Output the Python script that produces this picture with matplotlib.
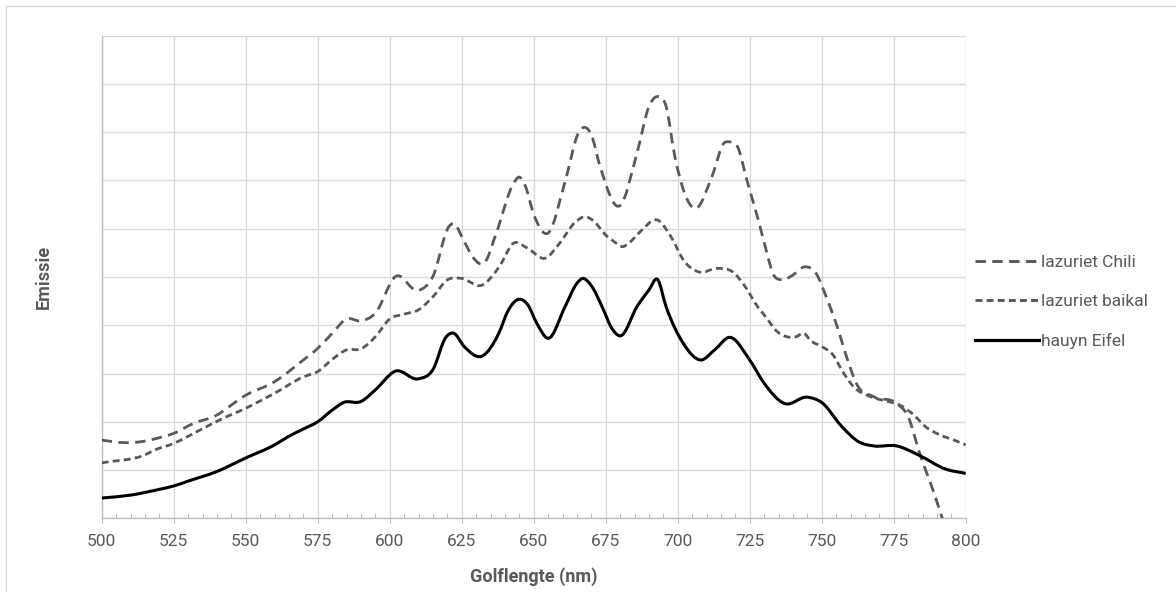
import numpy as np
import matplotlib
matplotlib.use("Agg")
import matplotlib.pyplot as plt
from matplotlib.path import Path
from matplotlib.patches import PathPatch, Rectangle
from matplotlib.lines import Line2D

plt.rcParams['font.family'] = ['Roboto', 'DejaVu Sans']
plt.rcParams['lines.scale_dashes'] = False

# ---------------- data ----------------
series_names = ["lazuriet Chili", "lazuriet baikal", "hauyn Eifel"]

chili_wl = [500, 507, 514, 520, 525, 532, 539, 550, 560, 570, 575, 580, 585, 590, 595,
            602, 610, 615, 620.5, 622, 626, 629, 633, 637, 643, 645, 647, 650, 655, 661,
            665.5, 667.5, 670, 673, 680, 686, 690, 693, 696, 699, 706, 712, 716, 718, 721,
            724, 728, 731, 733, 736, 740, 744, 748, 752, 755, 759, 762, 768, 776, 780,
            784, 789, 795, 800]
chili_em = [1.62, 1.57, 1.59, 1.67, 1.76, 1.97, 2.11, 2.55, 2.83, 3.28, 3.52, 3.83, 4.13, 4.09, 4.25,
            5.01, 4.72, 5.01, 6.04, 6.11, 5.72, 5.40, 5.30, 5.91, 6.94, 7.07, 6.90, 6.30, 5.91, 7.00,
            7.98, 8.10, 7.95, 7.30, 6.48, 7.60, 8.53, 8.74, 8.53, 7.50, 6.42, 7.10, 7.77, 7.80, 7.67,
            7.01, 6.18, 5.49, 5.08, 4.94, 5.04, 5.21, 5.08, 4.52, 4.04, 3.28, 2.80, 2.52, 2.38, 2.11,
            1.35, 0.52, -0.60, -1.60]

baikal_wl = [500, 505, 508, 514, 519, 525, 531, 541, 550, 560, 570, 575, 580, 585, 590,
             595, 600, 605, 610, 615, 620, 625, 632, 638, 643, 648, 654, 659, 664, 668,
             671, 675, 678, 681, 683, 687, 693, 698, 702, 707, 714, 719, 724, 727, 731,
             734, 738, 741, 744, 746, 750, 754, 757, 761, 767, 773, 777, 782, 786, 791,
             796, 800]
baikal_em = [1.15, 1.19, 1.21, 1.29, 1.43, 1.55, 1.73, 2.04, 2.28, 2.59, 2.93, 3.04, 3.29, 3.49, 3.51,
             3.76, 4.13, 4.23, 4.32, 4.59, 4.94, 4.97, 4.83, 5.21, 5.70, 5.59, 5.39, 5.70, 6.11, 6.25,
             6.15, 5.87, 5.73, 5.63, 5.70, 5.94, 6.18, 5.80, 5.35, 5.11, 5.18, 5.11, 4.75, 4.45, 4.14,
             3.90, 3.76, 3.76, 3.83, 3.69, 3.56, 3.38, 3.07, 2.73, 2.52, 2.42, 2.35, 2.14, 1.90, 1.73,
             1.62, 1.52]

hauyn_wl = [500, 510, 520, 525, 530, 540, 550, 560, 565, 570, 575, 580, 584, 590, 595,
            602, 610, 615, 619.5, 622, 626, 632, 638, 641, 645, 648, 651, 655, 661, 665,
            667, 670, 674, 677, 680, 686, 690, 693, 696, 702, 708, 713, 718, 725, 730,
            737, 745, 750, 757, 763, 768, 776, 784, 793, 800]
hauyn_em = [0.42, 0.48, 0.60, 0.67, 0.77, 0.97, 1.25, 1.52, 1.70, 1.85, 2.00, 2.24, 2.40, 2.42, 2.66,
            3.05, 2.89, 3.08, 3.75, 3.84, 3.55, 3.36, 3.85, 4.29, 4.54, 4.42, 4.05, 3.73, 4.40, 4.87,
            4.97, 4.82, 4.35, 3.95, 3.78, 4.40, 4.73, 4.95, 4.38, 3.62, 3.28, 3.50, 3.75, 3.28, 2.80,
            2.38, 2.51, 2.40, 1.90, 1.58, 1.50, 1.50, 1.30, 1.02, 0.93]

x_ticks = [500, 525, 550, 575, 600, 625, 650, 675, 700, 725, 750, 775, 800]
x_label = "Golflengte (nm)"
y_label = "Emissie"

# ---------------- helpers ----------------
def smooth_path(x, y):
    """Smoothed cubic (Hermite -> Bezier) path through the data points."""
    x = np.asarray(x, float)
    y = np.asarray(y, float)
    h = np.diff(x)
    d = np.diff(y) / h
    m = np.empty_like(y)
    m[0], m[-1] = d[0], d[-1]
    m[1:-1] = (h[:-1] * d[1:] + h[1:] * d[:-1]) / (h[:-1] + h[1:])
    verts = [(x[0], y[0])]
    codes = [Path.MOVETO]
    for i in range(len(x) - 1):
        hi = h[i]
        verts += [(x[i] + hi / 3, y[i] + m[i] * hi / 3),
                  (x[i + 1] - hi / 3, y[i + 1] - m[i + 1] * hi / 3),
                  (x[i + 1], y[i + 1])]
        codes += [Path.CURVE4] * 3
    return Path(np.array(verts), codes)

# ---------------- figure ----------------
W, H = 1176, 592
fig = plt.figure(figsize=(W / 100, H / 100), dpi=100)
ax = fig.add_axes([101.7 / W, 1 - 518.3 / H, (965.7 - 101.7) / W, (518.3 - 35.7) / H])

grey_line = "#595959"
text_col = "#595959"
grid_col = "#d9d9d9"
axis_col = "#bfbfbf"

styles = [
    dict(color=grey_line, lw=2.0, dash=(0, (7.5, 4.6))),
    dict(color=grey_line, lw=2.0, dash=(0, (5.0, 3.0))),
    dict(color="black", lw=2.2, dash="solid"),
]
data = [(chili_wl, chili_em), (baikal_wl, baikal_em), (hauyn_wl, hauyn_em)]

handles = []
for (xw, ye), st, name in zip(data, styles, series_names):
    patch = PathPatch(smooth_path(xw, ye), facecolor="none", edgecolor=st["color"],
                      lw=st["lw"], linestyle=st["dash"], capstyle="butt",
                      joinstyle="round", transform=ax.transData, zorder=3)
    ax.add_patch(patch)
    handles.append(Line2D([], [], color=st["color"], lw=st["lw"] * 1.05,
                          linestyle=st["dash"], label=name))

ax.set_xlim(500, 800)
ax.set_ylim(0, 10)
ax.set_xticks(x_ticks)
ax.set_xticks(np.arange(500, 801, 5), minor=True)
ax.set_yticks(np.arange(0, 11, 1))
ax.set_yticklabels([])
ax.grid(True, which="major", color=grid_col, lw=1.0, zorder=0)
ax.set_axisbelow(True)

ax.tick_params(axis="y", length=0)
ax.tick_params(axis="x", which="major", direction="out", length=3.6, width=0.8,
               color=axis_col, labelsize=12.5, labelcolor=text_col, pad=8)
ax.tick_params(axis="x", which="minor", direction="in", length=3.6, width=0.8, color=axis_col)

for s in ["top", "right"]:
    ax.spines[s].set_visible(False)
ax.spines["bottom"].set_color(axis_col)
ax.spines["bottom"].set_linewidth(1.0)
ax.spines["left"].set_color(axis_col)
ax.spines["left"].set_linewidth(1.0)

fig.text(533.7 / W, 1 - 577 / H, x_label, ha="center", va="center",
         fontsize=13, fontweight="bold", color=text_col)
fig.text(44 / W, 1 - 277 / H, y_label, ha="center", va="center", rotation=90,
         fontsize=13, fontweight="bold", color=text_col)

leg = fig.legend(handles=handles, loc="center left",
                 bbox_to_anchor=(975 / W, 1 - 302 / H), frameon=False,
                 fontsize=12.5, handlelength=3.7, handletextpad=0.12,
                 labelspacing=1.38, borderpad=0, borderaxespad=0)
for t in leg.get_texts():
    t.set_color(text_col)

# chart border
fig.patches.append(Rectangle((5.5 / W, -2 / H), (W + 4) / W, (H - 3.5) / H,
                             transform=fig.transFigure, fill=False,
                             edgecolor=grid_col, lw=1.0))

fig.savefig("out.png", dpi=100, facecolor="white")
